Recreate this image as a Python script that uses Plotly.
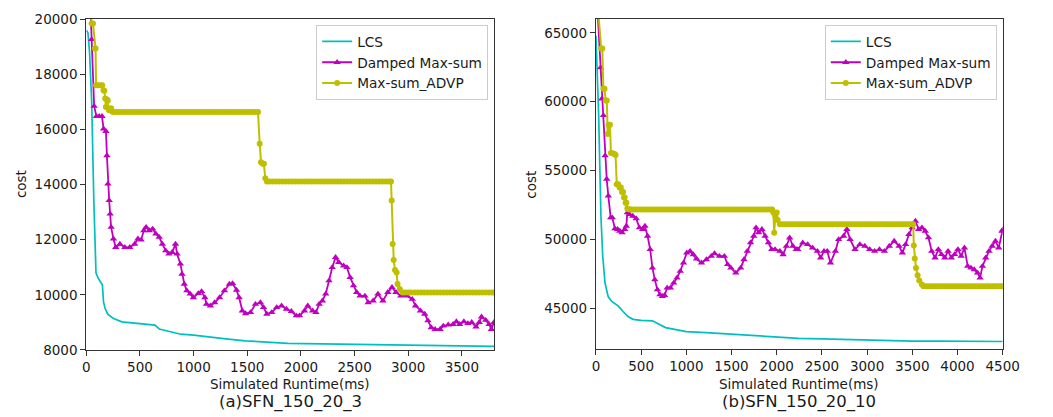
import plotly.graph_objects as go

# ---------------- Panel (a) SFN_150_20_3 ----------------
lcs_a_t = [0, 15, 30, 50, 70, 90, 110, 150, 160, 175, 200, 250, 330, 450, 600, 640, 680, 750, 880, 1000,
           1180, 1300, 1480, 1600, 1880, 2200, 2500, 2800, 3100, 3500, 3800]
lcs_a_v = [19600, 19500, 18800, 17000, 13400, 10800, 10600, 10350, 9750, 9500, 9300, 9150, 9020, 8980, 8940,
           8900, 8760, 8700, 8570, 8540, 8450, 8400, 8330, 8300, 8240, 8220, 8200, 8180, 8160, 8140, 8130]

dmp_a_t = [35, 49, 73, 94, 120, 146, 161, 183, 192, 201, 213, 222, 231, 253, 274, 313, 359, 405, 450, 481,
           511, 536, 557, 587, 618, 648, 679, 709, 740, 770, 800, 831, 846, 877, 892, 913, 937, 968, 998, 1044,
           1074, 1105, 1120, 1156, 1196, 1242, 1287, 1333, 1363, 1400, 1424, 1454, 1485, 1530, 1576, 1622, 1652,
           1683, 1728, 1774, 1820, 1865, 1911, 1957, 1987, 2033, 2064, 2109, 2140, 2170, 2200, 2231, 2262, 2292,
           2323, 2353, 2399, 2429, 2459, 2490, 2520, 2551, 2597, 2627, 2673, 2718, 2764, 2810, 2849, 2886, 2931,
           2992, 3038, 3068, 3114, 3154, 3184, 3215, 3251, 3297, 3327, 3373, 3419, 3449, 3480, 3519, 3556, 3592,
           3632, 3662, 3683, 3723, 3754, 3775, 3800]
dmp_a_v = [20800, 19260, 16840, 16470, 16470, 16470, 16020, 15930, 15050, 14020, 13420, 12930, 12450, 12030,
           11720, 11840, 11720, 11720, 11840, 12030, 11990, 12330, 12450, 12330, 12390, 12210, 12090, 11840,
           11600, 11480, 11540, 11840, 11480, 11120, 10750, 10390, 10150, 10030, 9900, 10050, 10120, 9900, 9660,
           9600, 9720, 9900, 10150, 10390, 10410, 10170, 9900, 9420, 9320, 9360, 9660, 9720, 9540, 9300, 9360,
           9540, 9600, 9480, 9400, 9240, 9240, 9420, 9600, 9420, 9360, 9660, 9780, 10030, 10510, 10990, 11360,
           11180, 11050, 10990, 10630, 10330, 10090, 9960, 9960, 9720, 9780, 10030, 9780, 10090, 10270, 10090,
           9960, 9960, 9840, 9600, 9420, 9300, 9060, 8810, 8750, 8750, 8870, 8910, 8930, 9030, 8930, 9030, 8960,
           9000, 8840, 9000, 9200, 9080, 8930, 8750, 9000]

adv_a_t = [30, 49, 62, 80, 86, 91, 110, 130, 148, 160, 168, 176, 182, 192, 200, 210, 222, 232, 242, 252,
           280, 310, 340, 370, 400, 430, 460, 490, 520, 550,
           580, 610, 640, 670, 700, 730, 760, 790, 820, 850,
           880, 910, 940, 970, 1000, 1030, 1060, 1090, 1120, 1150,
           1180, 1210, 1240, 1270, 1300, 1330, 1360, 1390, 1420, 1450,
           1480, 1510, 1540, 1570, 1600,
           1616, 1628, 1645, 1655, 1668, 1683,
           1710, 1740, 1770, 1800, 1830, 1860, 1890, 1920, 1950, 1980,
           2010, 2040, 2070, 2100, 2130, 2160, 2190, 2220, 2250, 2280,
           2310, 2340, 2370, 2400, 2430, 2460, 2490, 2520, 2550, 2580,
           2610, 2640, 2670, 2700, 2730, 2760, 2790, 2820, 2840,
           2846, 2855, 2865, 2877, 2892, 2901, 2922, 2947,
           2970, 3000, 3030, 3060, 3090, 3120, 3150, 3180, 3210, 3240,
           3270, 3300, 3330, 3360, 3390, 3420, 3450, 3480, 3510, 3540,
           3570, 3600, 3630, 3660, 3690, 3720, 3750, 3780, 3800]
adv_a_v = [22000, 19840, 19840, 18930, 18930, 17600, 17600, 17600, 17600, 17420, 17400, 17120, 16810, 17080,
           17050, 16700, 16690, 16760, 16650, 16630,
           16630, 16630, 16630, 16630, 16630, 16630, 16630, 16630, 16630, 16630,
           16630, 16630, 16630, 16630, 16630, 16630, 16630, 16630, 16630, 16630,
           16630, 16630, 16630, 16630, 16630, 16630, 16630, 16630, 16630, 16630,
           16630, 16630, 16630, 16630, 16630, 16630, 16630, 16630, 16630, 16630,
           16630, 16630, 16630, 16630, 16630,
           15480, 14810, 14750, 14750, 14230, 14110,
           14110, 14110, 14110, 14110, 14110, 14110, 14110, 14110, 14110, 14110,
           14110, 14110, 14110, 14110, 14110, 14110, 14110, 14110, 14110, 14110,
           14110, 14110, 14110, 14110, 14110, 14110, 14110, 14110, 14110, 14110,
           14110, 14110, 14110, 14110, 14110, 14110, 14110, 14110, 14110,
           13420, 11840, 11260, 10900, 10810, 10390, 10210, 10085,
           10085, 10085, 10085, 10085, 10085, 10085, 10085, 10085, 10085, 10085,
           10085, 10085, 10085, 10085, 10085, 10085, 10085, 10085, 10085, 10085,
           10085, 10085, 10085, 10085, 10085, 10085, 10085, 10085, 10085]

# ---------------- Panel (b) SFN_150_20_10 ----------------
lcs_b_t = [0, 15, 30, 55, 75, 100, 135, 175, 245, 300, 355, 410, 500, 625, 680, 770, 900, 1000, 1220, 1480,
           1760, 1980, 2240, 2500, 2800, 3100, 3500, 3800, 4200, 4500]
lcs_b_v = [64800, 62000, 59000, 51700, 48800, 46850, 45850, 45500, 45180, 44770, 44400, 44200, 44120, 44090,
           43920, 43600, 43430, 43310, 43240, 43120, 42990, 42900, 42820, 42780, 42720, 42680, 42620, 42610,
           42600, 42590]

dmp_b_t = [10, 51, 65, 83, 101, 119, 137, 163, 181, 210, 239, 264, 289, 318, 336, 347, 372, 408, 445, 481,
           517, 542, 571, 600, 625, 651, 680, 708, 734, 759, 788, 824, 860, 896, 933, 969, 1005, 1041, 1077,
           1113, 1168, 1222, 1276, 1312, 1366, 1421, 1457, 1493, 1547, 1601, 1637, 1674, 1710, 1746, 1771, 1800,
           1836, 1872, 1908, 1945, 1981, 2035, 2071, 2107, 2143, 2179, 2216, 2233, 2288, 2342, 2396, 2450, 2486,
           2523, 2559, 2595, 2649, 2685, 2740, 2776, 2812, 2866, 2920, 2975, 3029, 3083, 3137, 3191, 3246, 3300,
           3354, 3390, 3426, 3462, 3498, 3535, 3571, 3607, 3643, 3679, 3715, 3752, 3788, 3824, 3860, 3896, 3932,
           3968, 4005, 4041, 4077, 4113, 4149, 4185, 4222, 4250, 4276, 4312, 4348, 4384, 4420, 4456, 4493, 4500]
dmp_b_v = [67500, 62470, 60210, 59000, 56080, 54380, 53160, 51580, 51580, 50780, 50730, 50610, 50490, 50730,
           50970, 51940, 51820, 51700, 51510, 50850, 50730, 50970, 50240, 49270, 47930, 47080, 46350, 45990,
           45870, 45940, 46480, 46480, 46840, 47200, 47690, 48300, 49030, 49150, 48900, 48590, 48300, 48540,
           48780, 48980, 48780, 48780, 48180, 47930, 47570, 47930, 48540, 49150, 49760, 50240, 50850, 50490,
           50730, 50240, 49760, 49270, 49270, 49150, 48900, 49510, 50120, 49514, 49270, 49270, 49757, 49635,
           49392, 49150, 48663, 49150, 49150, 48298, 49150, 50000, 50243, 50730, 50000, 49270, 49635, 49514,
           49270, 49150, 49270, 49150, 49514, 49878, 49514, 49028, 49635, 50365, 50851, 51337, 50730, 50851,
           50608, 50122, 49150, 48663, 49270, 48906, 48663, 49150, 48663, 48906, 49270, 48785, 49392, 48055,
           47933, 47811, 47568, 47204, 48055, 48663, 49150, 49514, 49878, 49392, 50608, 50700]

adv_b_t = [20, 58, 70, 83, 95, 108, 120, 130, 142, 155, 166, 185, 205, 217, 230, 246, 262, 275, 288, 300,
           310, 318, 328, 336, 347, 360, 383,
           400, 430, 460, 490, 520, 550, 580, 610, 640, 670,
           700, 730, 760, 790, 820, 850, 880, 910, 940, 970,
           1000, 1030, 1060, 1090, 1120, 1150, 1180, 1210, 1240, 1270,
           1300, 1330, 1360, 1390, 1420, 1450, 1480, 1510, 1540, 1570,
           1600, 1630, 1660, 1690, 1720, 1750, 1780, 1810, 1840, 1870,
           1900, 1930, 1950,
           1963, 1972, 1985, 2000, 2010, 2035,
           2060, 2090, 2120, 2150, 2180, 2210, 2240, 2270, 2300, 2330,
           2360, 2390, 2420, 2450, 2480, 2510, 2540, 2570, 2600, 2630,
           2660, 2690, 2720, 2750, 2780, 2810, 2840, 2870, 2900, 2930,
           2960, 2990, 3020, 3050, 3080, 3110, 3140, 3170, 3200, 3230,
           3260, 3290, 3320, 3350, 3380, 3410, 3440, 3470, 3500, 3510,
           3517, 3527, 3541, 3559, 3577, 3606, 3624,
           3650, 3680, 3710, 3740, 3770, 3800, 3830, 3860, 3890, 3920,
           3950, 3980, 4010, 4040, 4070, 4100, 4130, 4160, 4190, 4220,
           4250, 4280, 4310, 4340, 4370, 4400, 4430, 4460, 4490, 4500]
adv_b_v = [67000, 63860, 63860, 60940, 60940, 60090, 60090, 57660, 58300, 58320, 56270, 56250, 56200, 56130,
           54010, 54010, 53770, 53770, 53450, 53450, 53040, 53040, 52670, 52670, 52240, 52190, 52170,
           52170, 52170, 52170, 52170, 52170, 52170, 52170, 52170, 52170, 52170,
           52170, 52170, 52170, 52170, 52170, 52170, 52170, 52170, 52170, 52170,
           52170, 52170, 52170, 52170, 52170, 52170, 52170, 52170, 52170, 52170,
           52170, 52170, 52170, 52170, 52170, 52170, 52170, 52170, 52170, 52170,
           52170, 52170, 52170, 52170, 52170, 52170, 52170, 52170, 52170, 52170,
           52170, 52170, 52170,
           51950, 50490, 51700, 51950, 51410, 51100,
           51100, 51100, 51100, 51100, 51100, 51100, 51100, 51100, 51100, 51100,
           51100, 51100, 51100, 51100, 51100, 51100, 51100, 51100, 51100, 51100,
           51100, 51100, 51100, 51100, 51100, 51100, 51100, 51100, 51100, 51100,
           51100, 51100, 51100, 51100, 51100, 51100, 51100, 51100, 51100, 51100,
           51100, 51100, 51100, 51100, 51100, 51100, 51100, 51100, 51100, 51100,
           49565, 48615, 47930, 47400, 47010, 46720, 46600,
           46600, 46600, 46600, 46600, 46600, 46600, 46600, 46600, 46600, 46600,
           46600, 46600, 46600, 46600, 46600, 46600, 46600, 46600, 46600, 46600,
           46600, 46600, 46600, 46600, 46600, 46600, 46600, 46600, 46600, 46600]

series_names = ["LCS", "Damped Max-sum", "Max-sum_ADVP"]
captions = ["(a)SFN_150_20_3", "(b)SFN_150_20_10"]
x_title = "Simulated Runtime(ms)"
y_title = "cost"

for a, b in [(lcs_a_t, lcs_a_v), (dmp_a_t, dmp_a_v), (adv_a_t, adv_a_v),
             (lcs_b_t, lcs_b_v), (dmp_b_t, dmp_b_v), (adv_b_t, adv_b_v)]:
    assert len(a) == len(b), (len(a), len(b))

C_LCS = "#00bfbf"
C_DMP = "#bf00bf"
C_ADV = "#bfbf00"
FONT = "DejaVu Sans"
TXT = "#1a1a1a"

fig = go.Figure()

panels = [
    (lcs_a_t, lcs_a_v, dmp_a_t, dmp_a_v, adv_a_t, adv_a_v, "x", "y", "legend"),
    (lcs_b_t, lcs_b_v, dmp_b_t, dmp_b_v, adv_b_t, adv_b_v, "x2", "y2", "legend2"),
]
for lt, lv, dt, dv, at, av, xa, ya, lg in panels:
    fig.add_trace(go.Scatter(x=lt, y=lv, mode="lines", name=series_names[0],
                             line=dict(color=C_LCS, width=1.7), xaxis=xa, yaxis=ya, legend=lg))
    fig.add_trace(go.Scatter(x=dt, y=dv, mode="lines+markers", name=series_names[1],
                             line=dict(color=C_DMP, width=1.8),
                             marker=dict(symbol="triangle-up", size=6.5, color=C_DMP),
                             xaxis=xa, yaxis=ya, legend=lg))
    fig.add_trace(go.Scatter(x=at, y=av, mode="lines+markers", name=series_names[2],
                             line=dict(color=C_ADV, width=2),
                             marker=dict(symbol="circle", size=6, color=C_ADV),
                             xaxis=xa, yaxis=ya, legend=lg))

W, H = 1053, 417
# The captured picture shows the page with a small vertical offset/compression;
# target pixel rows are mapped back to figure rows accordingly.
Y_OFF, Y_SCALE = 8.0, 0.959

def px(v):
    return v / W

def py(v):
    return 1 - ((v - Y_OFF) / Y_SCALE) / H

axis_common = dict(showline=True, mirror=True, linecolor="#333333", linewidth=1.2,
                   ticks="outside", ticklen=5, tickwidth=1.1, tickcolor="#333333",
                   showgrid=False, zeroline=False, tickformat="d",
                   tickfont=dict(family=FONT, size=13.5, color=TXT))

legend_common = dict(xanchor="right", yanchor="top",
                     bgcolor="rgba(255,255,255,0.85)", bordercolor="#cccccc", borderwidth=1,
                     font=dict(family=FONT, size=13.7, color=TXT), itemwidth=30)

fig.update_layout(
    width=W, height=H,
    margin=dict(l=0, r=0, t=0, b=0),
    paper_bgcolor="white", plot_bgcolor="white",
    showlegend=True,
    xaxis=dict(domain=[px(84), px(500)], anchor="y", range=[0, 3800], tick0=0, dtick=500, **axis_common),
    yaxis=dict(domain=[py(349), py(19)], anchor="x", range=[8000, 20000], tick0=8000, dtick=2000, **axis_common),
    xaxis2=dict(domain=[px(604), px(1019)], anchor="y2", range=[0, 4500], tick0=0, dtick=500, **axis_common),
    yaxis2=dict(domain=[py(348), py(19)], anchor="x2", range=[42050, 66000], tick0=45000, dtick=5000, **axis_common),
    legend=dict(x=px(494), y=py(25), **legend_common),
    legend2=dict(x=px(1013), y=py(25), **legend_common),
)

annots = []
for cx, cap in [((84 + 500) / 2, captions[0]), ((604 + 1019) / 2, captions[1])]:
    annots.append(dict(x=px(cx), y=py(383), xref="paper", yref="paper", text=x_title, showarrow=False,
                       xanchor="center", yanchor="middle", font=dict(family=FONT, size=13.5, color=TXT)))
    annots.append(dict(x=px(cx), y=0, xref="paper", yref="paper", text=cap, showarrow=False,
                       xanchor="center", yanchor="bottom", yshift=-5,
                       font=dict(family=FONT, size=16.5, color=TXT)))
for cx in [18, 538]:
    annots.append(dict(x=px(cx), y=py(184), xref="paper", yref="paper", text=y_title, showarrow=False,
                       textangle=-90, xanchor="center", yanchor="middle",
                       font=dict(family=FONT, size=13.5, color=TXT)))
fig.update_layout(annotations=annots)

fig.write_html("out.html")
